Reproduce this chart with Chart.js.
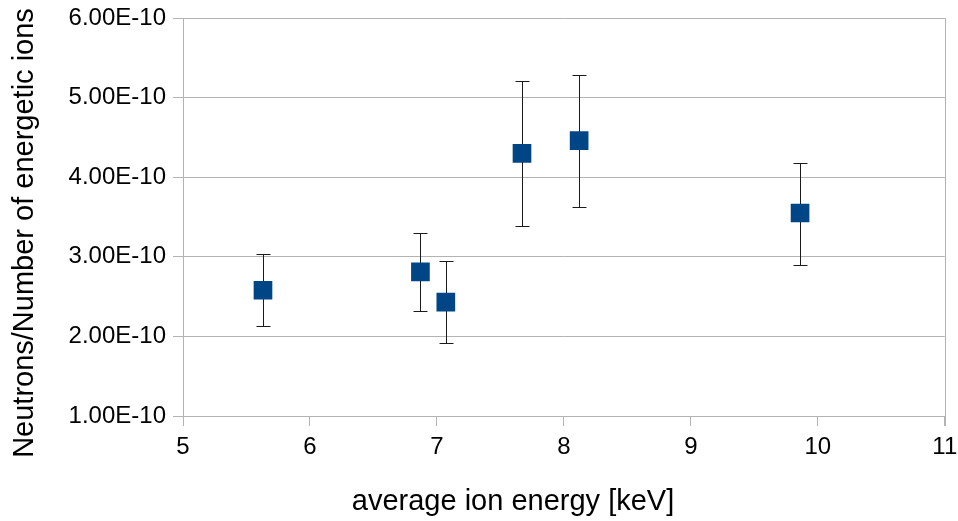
<!DOCTYPE html>
<html>
<head>
<meta charset="utf-8">
<script src="https://cdn.jsdelivr.net/npm/chart.js@4/dist/chart.umd.min.js"></script>
<style>
    html, body { margin: 0; padding: 0; background: #fff; }
    #wrap { width: 958px; height: 521px; }
</style>
</head>
<body>
<div id="wrap"><canvas id="chart" width="958" height="521"></canvas></div>
<script>
// average ion energy [keV]
const energy = [5.63, 6.87, 7.07, 7.67, 8.12, 9.86];
// neutrons per energetic ion
const ratio = [2.58e-10, 2.81e-10, 2.43e-10, 4.30e-10, 4.46e-10, 3.55e-10];
const ratioHigh = [3.04e-10, 3.30e-10, 2.95e-10, 5.21e-10, 5.29e-10, 4.18e-10];
const ratioLow = [2.13e-10, 2.32e-10, 1.92e-10, 3.39e-10, 3.63e-10, 2.90e-10];

const xTicks = [5, 6, 7, 8, 9, 10, 11];
const yTicks = [1e-10, 2e-10, 3e-10, 4e-10, 5e-10, 6e-10];

const xTitle = 'average ion energy [keV]';
const yTitle = 'Neutrons/Number of energetic ions';

const FONT = '"Liberation Sans", Arial, sans-serif';
const GRID = '#b3b3b3';

const errorBars = {
    id: 'errorBars',
    beforeDatasetsDraw(chart) {
        const { ctx, scales: { x, y } } = chart;
        ctx.save();
        ctx.strokeStyle = '#1a1a1a';
        ctx.lineWidth = 1;
        energy.forEach((e, i) => {
            const px = Math.round(x.getPixelForValue(e)) + 0.5;
            const top = Math.round(y.getPixelForValue(ratioHigh[i])) + 0.5;
            const bot = Math.round(y.getPixelForValue(ratioLow[i])) + 0.5;
            ctx.beginPath();
            ctx.moveTo(px, top);
            ctx.lineTo(px, bot);
            ctx.moveTo(px - 7, top);
            ctx.lineTo(px + 7, top);
            ctx.moveTo(px - 7, bot);
            ctx.lineTo(px + 7, bot);
            ctx.stroke();
        });
        ctx.restore();
    },
};

const frameAndTitles = {
    id: 'frameAndTitles',
    afterDraw(chart) {
        const { ctx, chartArea } = chart;
        ctx.save();
        ctx.strokeStyle = GRID;
        ctx.lineWidth = 1;
        ctx.beginPath();
        const r = Math.round(chartArea.right) + 0.5;
        ctx.moveTo(r, chartArea.top);
        ctx.lineTo(r, chartArea.bottom + 10);
        ctx.stroke();

        ctx.fillStyle = '#000';
        ctx.font = '29px ' + FONT;
        ctx.textAlign = 'center';
        ctx.textBaseline = 'alphabetic';
        ctx.fillText(xTitle, 513, 510);
        ctx.translate(33, 233);
        ctx.rotate(-Math.PI / 2);
        ctx.fillText(yTitle, 0, 0);
        ctx.restore();
    },
};

new Chart(document.getElementById('chart'), {
    type: 'scatter',
    data: {
        datasets: [{
            data: energy.map((e, i) => ({ x: e, y: ratio[i] })),
            backgroundColor: '#004586',
            borderColor: '#004586',
            borderWidth: 0,
            pointStyle: 'rect',
            pointRadius: 13.2,
            pointHoverRadius: 13.2,
        }],
    },
    options: {
        responsive: false,
        animation: false,
        devicePixelRatio: 1,
        layout: { padding: { top: 18, right: 13, left: 0, bottom: 0 } },
        plugins: {
            legend: { display: false },
            tooltip: { enabled: false },
        },
        scales: {
            x: {
                type: 'linear',
                min: 5,
                max: 11,
                afterBuildTicks: (s) => { s.ticks = xTicks.map((v) => ({ value: v })); },
                afterFit: (s) => { s.height = 105; s.paddingLeft = 0; s.paddingRight = 0; },
                grid: { drawOnChartArea: false, color: GRID, tickLength: 10 },
                border: { color: GRID },
                ticks: {
                    color: '#000',
                    font: { family: FONT, size: 24 },
                    padding: 7,
                    maxRotation: 0,
                },
            },
            y: {
                type: 'linear',
                min: 1e-10,
                max: 6e-10,
                afterBuildTicks: (s) => { s.ticks = yTicks.map((v) => ({ value: v })); },
                afterFit: (s) => { s.width = 183; s.paddingTop = 0; s.paddingBottom = 0; },
                grid: { color: GRID, tickLength: 10 },
                border: { color: GRID },
                ticks: {
                    color: '#000',
                    font: { family: FONT, size: 24 },
                    padding: 7,
                    callback: (v) => Number(v).toExponential(2).toUpperCase(),
                },
            },
        },
    },
    plugins: [errorBars, frameAndTitles],
});
</script>
</body>
</html>
